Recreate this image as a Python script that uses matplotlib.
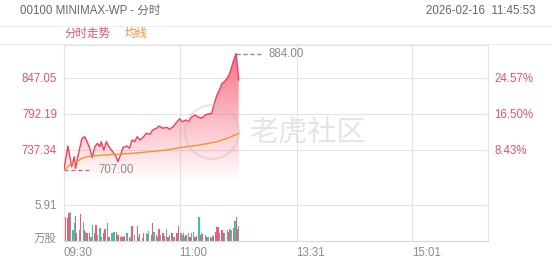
import numpy as np
import matplotlib
matplotlib.use("Agg")
import matplotlib.pyplot as plt
from matplotlib.patches import Circle

plt.rcParams['font.family'] = ['Liberation Sans', 'Noto Sans CJK SC']

# =========================
# DATA
# =========================
prev_close = 680.0
price_ticks = [737.34, 792.19, 847.05]
pct_labels = ['8.43%', '16.50%', '24.57%']
hi_price, lo_price = 884.00, 707.00

# minutes since 09:30, price
px_min = [0, 3, 6, 8, 9, 11, 14, 16, 18, 20, 22, 24, 26, 28, 29, 31, 33, 35, 37, 40,
          42, 44, 46, 49, 51, 53, 55, 57, 59, 62, 64, 67, 69, 72, 74, 77, 80, 82, 85, 87,
          90, 92, 95, 97, 99, 102, 104, 107, 110, 112, 115, 117, 119, 121, 123, 125, 127,
          129, 131, 133, 134, 135, 136]
px_val = [707.0, 743.4, 712.0, 727.0, 709.5, 729.7, 755.0, 757.6, 750.0, 740.0, 726.0,
          742.4, 747.5, 742.4, 750.0, 737.3, 750.0, 742.0, 737.0, 729.7, 719.5, 730.0,
          741.4, 743.4, 740.0, 752.6, 750.0, 757.6, 752.6, 757.6, 762.7, 761.3, 767.8,
          770.4, 773.9, 770.4, 772.0, 768.9, 772.8, 778.0, 785.0, 780.5, 783.0, 780.5,
          787.0, 790.7, 788.0, 785.6, 790.7, 792.2, 793.2, 808.5, 821.0, 828.8, 839.0,
          841.4, 846.6, 854.2, 866.9, 879.5, 884.0, 864.3, 844.0]

avg_min = [0, 2, 5, 7, 10, 14, 18, 28, 41, 54, 67, 80, 90, 106, 119, 129, 136]
avg_val = [706.0, 709.4, 716.0, 718.0, 719.5, 724.7, 727.1, 729.2, 730.8, 732.3, 734.8,
           737.3, 740.9, 745.0, 750.0, 756.7, 762.7]

# volume bars (万股), minute and up/down flag
vol_min = [0, 1, 3, 4, 5, 7, 8, 9, 10, 12, 13, 15, 16, 17, 18, 20, 21, 22, 24, 25, 26,
           28, 29, 31, 32, 34, 35, 37, 38, 39, 41, 42, 44, 45, 46, 47, 49, 51, 52, 53, 55,
           57, 58, 59, 61, 62, 64, 65, 66, 68, 69, 70, 72, 73, 74, 75, 77, 78, 80, 81, 82,
           84, 85, 86, 88, 89, 91, 92, 93, 94, 95, 97, 98, 99, 101, 102, 103, 105, 106,
           107, 108, 110, 111, 112, 114, 115, 116, 118, 119, 120, 121, 123, 124, 125, 127,
           128, 129, 130, 132, 133, 134, 135, 136]
vol_val = [8.48, 3.99, 3.72, 4.54, 4.82, 1.81, 2.90, 4.10, 1.26, 1.81, 4.43, 3.17, 1.81,
           1.53, 1.26, 1.26, 0.71, 2.63, 1.26, 2.63, 0.98, 2.08, 0.71, 1.26, 1.92, 3.01,
           0.71, 1.26, 1.37, 1.53, 1.53, 0.98, 0.71, 0.82, 0.71, 0.82, 1.37, 0.60, 0.44,
           2.46, 0.98, 2.52, 0.71, 1.09, 0.44, 1.26, 1.37, 1.09, 1.70, 0.98, 2.90, 1.53,
           0.98, 0.71, 1.92, 0.98, 1.26, 0.82, 1.92, 0.71, 0.98, 1.26, 0.71, 0.71, 1.26,
           2.46, 1.26, 0.98, 1.26, 0.60, 0.98, 1.26, 0.71, 1.26, 1.53, 0.71, 0.82, 3.99,
           0.98, 1.26, 1.15, 0.98, 0.60, 0.71, 0.71, 0.44, 0.82, 1.53, 2.35, 2.35, 1.26,
           1.81, 1.26, 1.37, 1.81, 1.53, 1.92, 1.81, 2.08, 3.34, 3.89, 1.92, 2.46]
vol_up = "rrrrgggrrgrgrgrrggrrgggrrgrgggrrrgrrgrgrgrgrgrgrgrrgrgrgrrgrgrgrrrggrgrgrggrrgrgrgrgrgrrrrgrrggrrgrgrrg"
vol_tick = 5.91

time_ticks = [0, 90, 181, 271]
time_labels = ['09:30', '11:00', '13:31', '15:01']

# =========================
# STYLE
# =========================
W, H = 552, 265
RED = '#ee3f5c'
RED_TXT = '#e4536c'
ORANGE = '#f5922f'
TEAL = '#22b39c'
GRID = '#e4e4e4'
GRAY = '#8c8c8c'

fig = plt.figure(figsize=(W/100, H/100), dpi=100)

def rect(x0, y0, x1, y1):
    return [x0/W, 1 - y1/H, (x1 - x0)/W, (y1 - y0)/H]

# price panel: pixel rows 45..185
ax = fig.add_axes(rect(64, 45, 488, 185))
ax.set_xlim(0, 330)
ax.set_ylim(684.0, 897.33)

# volume panel: pixel rows 185..241
vax = fig.add_axes(rect(64, 185, 488, 241))
vax.set_xlim(0, 330)
vax.set_ylim(0, 9.19)

for a in (ax, vax):
    for s in a.spines.values():
        s.set_color(GRID)
        s.set_linewidth(0.8)
    a.tick_params(length=0)
    for t in time_ticks[1:]:
        a.axvline(t, color=GRID, lw=0.8, zorder=0)
ax.spines['bottom'].set_visible(False)
vax.spines['top'].set_visible(False)
vax.spines['bottom'].set_color('#d8d8d8')

for p in price_ticks:
    ax.axhline(p, color=GRID, lw=0.8, zorder=0)
vax.axhline(vol_tick, color=GRID, lw=0.8, zorder=0)

# price line + gradient fill
x = np.array(px_min)
y = np.array(px_val)
poly = ax.fill_between(x, y, 684.0, facecolor='none', edgecolor='none')
grad = np.zeros((200, 2, 4))
grad[..., 0] = 0.96
grad[..., 1] = 0.33
grad[..., 2] = 0.42
alpha = np.linspace(0.85, 0.0, 200)
grad[..., 3] = alpha[:, None]
im = ax.imshow(grad, extent=[x[0], x[-1], 690, 890], origin='upper',
               aspect='auto', zorder=1, interpolation='bilinear')
im.set_clip_path(poly.get_paths()[0], transform=ax.transData)
ax.set_ylim(684.0, 897.33)
ax.plot(x, y, color=RED, lw=1.0, zorder=3)
ax.plot(avg_min, avg_val, color=ORANGE, lw=1.0, zorder=3)

# high / low markers
i_hi = int(np.argmax(y))
ax.plot([x[i_hi], x[i_hi] + 20], [hi_price, hi_price], ls=(0, (3, 2)), color=GRAY, lw=1)
ax.text(x[i_hi] + 25, hi_price, f'{hi_price:.2f}', color=GRAY, fontsize=8.3, va='center')
ax.plot([0, 22], [lo_price, lo_price], ls=(0, (3, 2)), color=GRAY, lw=1)
ax.text(27, lo_price, f'{lo_price:.2f}', color=GRAY, fontsize=8.3, va='center')

ax.set_xticks([])
ax.set_yticks(price_ticks, [f'{p:.2f}' for p in price_ticks])
ax.tick_params(axis='y', labelcolor=RED_TXT, labelsize=8.3, pad=5)
ax2 = ax.twinx()
ax2.set_ylim(ax.get_ylim())
ax2.set_yticks(price_ticks, pct_labels)
ax2.tick_params(axis='y', length=0, labelcolor=RED_TXT, labelsize=8.3, pad=4.5)
for s in ax2.spines.values():
    s.set_visible(False)

# volume bars
cols = [RED if c == 'r' else TEAL for c in vol_up]
vax.bar(vol_min, vol_val, width=1.0, color=cols, alpha=0.85, lw=0, zorder=2)
vax.set_yticks([0.66, vol_tick], ['万股', f'{vol_tick:.2f}'])
vax.tick_params(axis='y', labelcolor=GRAY, labelsize=8.3, pad=5)
vax.set_xticks(time_ticks, time_labels)
vax.tick_params(axis='x', labelcolor=GRAY, labelsize=8.3, pad=4)
for lab in vax.get_xticklabels():
    lab.set_horizontalalignment('left')

# overlay in pixel coords: header, legend band, watermark
ov = fig.add_axes([0, 0, 1, 1], facecolor='none')
ov.set_xlim(0, W)
ov.set_ylim(H, 0)
ov.axis('off')
ov.plot([0, W], [26, 26], color='#eeeeee', lw=0.8)
ov.plot([0, W], [44, 44], color='#eeeeee', lw=0.8)
ov.text(20, 11, '00100 MINIMAX-WP - 分时', color='#666666', fontsize=8.3, va='center')
ov.text(535, 11, '2026-02-16  11:45:53', color='#666666', fontsize=8.3, va='center', ha='right')
ov.text(64, 34, '分时走势', color=RED_TXT, fontsize=8.3, va='center')
ov.text(125, 34, '均线', color=ORANGE, fontsize=8.3, va='center')
ov.add_patch(Circle((212, 132), 27, fill=False, ec='#bbbbbb', lw=1.6, alpha=0.35))
ov.text(307, 133, '老虎社区', color='#cfcfcf', fontsize=21, va='center', ha='center', alpha=0.55)

fig.savefig('out.png', dpi=100)
